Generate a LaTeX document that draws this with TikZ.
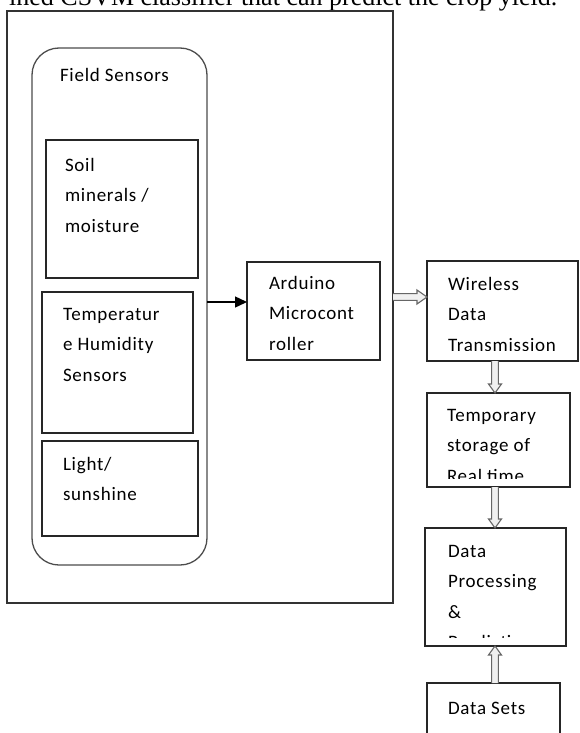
\documentclass[tikz,border=0pt]{standalone}
\usepackage{fontspec}
\setmainfont{Carlito}
\newfontfamily\boxfont[LetterSpace=4]{Carlito}
\newfontfamily\seriffont{Liberation Serif}
\usetikzlibrary{arrows.meta,calc}
\begin{document}
\begin{tikzpicture}[x=1pt,y=-1pt,
  box/.style={draw=black!85,line width=1.3pt,inner sep=0pt,outer sep=0pt,anchor=north west},
  lbl/.style={anchor=base west,inner sep=0pt,outer sep=0pt,font=\boxfont\fontsize{19}{30.5}\selectfont},
  blk/.style={draw=black!60,fill=black!6,line width=1.1pt,line join=miter},
  ]
\useasboundingbox (0,0) rectangle (580,733);
\clip (0,0) rectangle (580,733);
% caption fragment
\node[anchor=base west,inner sep=0pt,font=\seriffont\fontsize{26}{30}\selectfont] (cap) at (9,6) {ined CSVM classifier that can predict the crop yield.};
% outer frame
\node[box,draw=black!80,line width=1.5pt,minimum width=386pt,minimum height=592pt] (outer) at (7,11) {};
% field sensors group
\node[box,draw=black!70,rounded corners=27pt,minimum width=175pt,minimum height=517pt] (fs) at (32,48) {};
\node[lbl] (fsT) at (60,82) {Field Sensors};
\node[box,minimum width=152pt,minimum height=138pt] (soil) at (46,140) {};
\node[lbl] (soilT) at (65,171) {\parbox[t]{150pt}{\raggedright Soil\\minerals /\\moisture}};
\node[box,minimum width=151pt,minimum height=141pt] (temp) at (42,292) {};
\node[lbl] (tempT) at (63,320) {\parbox[t]{150pt}{\raggedright Temperatur\\e Humidity\\Sensors}};
\node[box,minimum width=156pt,minimum height=95pt] (light) at (42,441) {};
\node[lbl] (lightT) at (63,470) {\parbox[t]{150pt}{\raggedright Light/\\sunshine}};
% arduino
\node[box,minimum width=133pt,minimum height=98pt] (ard) at (247,262) {};
\begin{scope}
\clip (247,262) rectangle (380,349);
\node[lbl] (ardT) at (269,289) {\parbox[t]{150pt}{\raggedright Arduino\\Microcont\\roller}};
\end{scope}
% right column
\node[box,minimum width=151pt,minimum height=100pt] (wire) at (427,261) {};
\begin{scope}
\clip (427,261) rectangle (578,350);
\node[lbl] (wireT) at (448,290) {\parbox[t]{150pt}{\raggedright Wireless\\Data\\Transmission}};
\end{scope}
\node[box,minimum width=143pt,minimum height=94pt] (tmp) at (427,393) {};
\begin{scope}
\clip (427,393) rectangle (570,478);
\node[lbl] (tmpT) at (447,421) {\parbox[t]{150pt}{\raggedright Temporary\\storage of\\Real time}};
\end{scope}
\node[box,minimum width=141pt,minimum height=118pt] (proc) at (425,528) {};
\begin{scope}
\clip (425,528) rectangle (566,637);
\node[lbl] (procT) at (448,557) {\parbox[t]{150pt}{\raggedright Data\\Processing\\\&\\Prediction}};
\end{scope}
\node[box,minimum width=133pt,minimum height=80pt] (dsets) at (427,683) {};
\node[lbl] (dsetsT) at (448,714) {Data Sets};
% connectors
\coordinate (a1) at (0,302);
\coordinate (a2) at (0,297);
\coordinate (a3) at (495,0);
\draw[black,line width=1.4pt,-{Triangle[length=12pt,width=11pt]}] (fs.east |- a1) -- (ard.west |- a1);
% outer -> wireless
\coordinate (s1) at (outer.east |- a2);
\coordinate (e1) at (wire.west |- a2);
\draw[blk] ($(s1)+(0,-3.4)$) -- ($(e1)+(-10,-3.4)$) -- ($(e1)+(-10,-7)$) -- (e1) -- ($(e1)+(-10,7)$) -- ($(e1)+(-10,3.4)$) -- ($(s1)+(0,3.4)$);
% wireless -> temporary
\coordinate (s2) at (wire.south -| a3);
\coordinate (e2) at (tmp.north -| a3);
\draw[blk] ($(s2)+(-3.4,0)$) -- ($(e2)+(-3.4,-9)$) -- ($(e2)+(-6.5,-9)$) -- (e2) -- ($(e2)+(6.5,-9)$) -- ($(e2)+(3.4,-9)$) -- ($(s2)+(3.4,0)$);
% temporary -> processing
\coordinate (s3) at (tmp.south -| a3);
\coordinate (e3) at (proc.north -| a3);
\draw[blk] ($(s3)+(-3.4,0)$) -- ($(e3)+(-3.4,-9)$) -- ($(e3)+(-6.5,-9)$) -- (e3) -- ($(e3)+(6.5,-9)$) -- ($(e3)+(3.4,-9)$) -- ($(s3)+(3.4,0)$);
% data sets -> processing
\coordinate (s4) at (dsets.north -| a3);
\coordinate (e4) at (proc.south -| a3);
\draw[blk] ($(s4)+(-3.4,0)$) -- ($(e4)+(-3.4,9)$) -- ($(e4)+(-6.5,9)$) -- (e4) -- ($(e4)+(6.5,9)$) -- ($(e4)+(3.4,9)$) -- ($(s4)+(3.4,0)$);
\end{tikzpicture}
\end{document}
